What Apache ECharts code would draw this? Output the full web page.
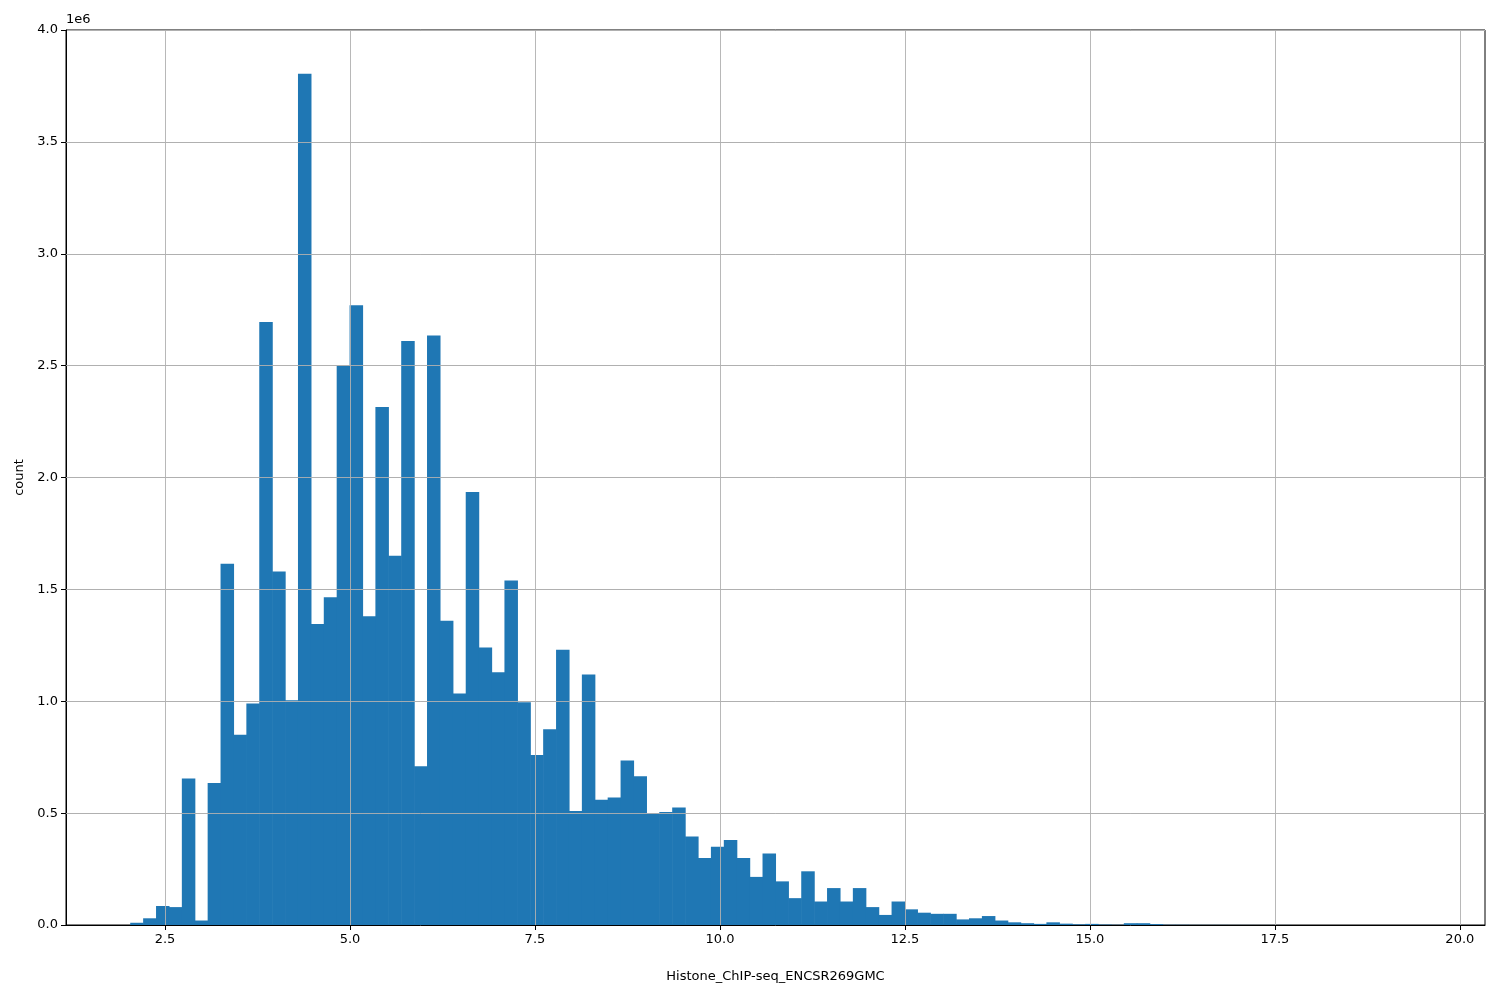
<!DOCTYPE html>
<html>
<head>
<meta charset="utf-8">
<script src="https://cdn.jsdelivr.net/npm/echarts@6/dist/echarts.min.js"></script>
<style>html,body{margin:0;padding:0;background:#fff}#chart{width:1500px;height:1000px}</style>
</head>
<body>
<div id="chart"></div>
<script>
// histogram: 100 bins from binStart with width binWidth, counts in millions
const binStart = 2.03;
const binWidth = 0.1744;
const counts = [
  0.01, 0.03, 0.085, 0.08, 0.655, 0.02, 0.635, 1.615, 0.85, 0.99,
  2.695, 1.58, 1.005, 3.805, 1.345, 1.465, 2.50, 2.77, 1.38, 2.315,
  1.65, 2.61, 0.71, 2.635, 1.36, 1.035, 1.935, 1.24, 1.13, 1.54,
  0.995, 0.76, 0.875, 1.23, 0.51, 1.12, 0.56, 0.57, 0.735, 0.665,
  0.50, 0.505, 0.525, 0.395, 0.30, 0.35, 0.38, 0.30, 0.215, 0.32,
  0.195, 0.12, 0.24, 0.105, 0.165, 0.105, 0.165, 0.08, 0.045, 0.105,
  0.07, 0.055, 0.05, 0.05, 0.025, 0.03, 0.04, 0.02, 0.012, 0.008,
  0.005, 0.012, 0.006, 0.003, 0.005, 0.002, 0.001, 0.008, 0.008, 0.004,
  0.001, 0.001, 0.0005, 0.0005, 0.0005, 0.0003, 0.0003, 0.0002, 0.0002, 0.0002,
  0.0001, 0.0001, 0.0001, 0.0001, 0.0001, 0.0001, 0.0001, 0.0001, 0.0001, 0.0001
];
const xTicks = [2.5, 5.0, 7.5, 10.0, 12.5, 15.0, 17.5, 20.0];

const data = counts.map((c, i) => [binStart + i * binWidth, binStart + (i + 1) * binWidth, c * 1e6]);

const chart = echarts.init(document.getElementById('chart'));
const font = 'DejaVu Sans';
chart.setOption({
  animation: false,
  textStyle: { fontFamily: font },
  grid: { left: 66, right: 15, top: 30, bottom: 75, show: true, borderColor: '#000', borderWidth: 1 },
  graphic: [{ type: 'text', left: 66, top: 13, style: { text: '1e6', font: '13px DejaVu Sans', fill: '#000' } }],
  xAxis: {
    type: 'value', min: 1.162, max: 20.34,
    name: 'Histone_ChIP-seq_ENCSR269GMC', nameLocation: 'middle', nameGap: 45,
    nameTextStyle: { color: '#000', fontSize: 13, fontFamily: font },
    axisLine: { onZero: false, lineStyle: { color: '#000' } },
    axisTick: { show: true, customValues: xTicks, length: 5, lineStyle: { color: '#000' } },
    axisLabel: { customValues: xTicks, color: '#000', fontSize: 13, formatter: v => v.toFixed(1) },
    splitLine: { show: false }
  },
  yAxis: {
    type: 'value', min: 0, max: 4e6, interval: 5e5,
    name: 'count', nameLocation: 'middle', nameGap: 40,
    nameTextStyle: { color: '#000', fontSize: 13, fontFamily: font },
    axisLine: { show: true, lineStyle: { color: '#000' } },
    axisTick: { show: true, length: 5, lineStyle: { color: '#000' } },
    axisLabel: { color: '#000', fontSize: 13, formatter: v => (v / 1e6).toFixed(1) },
    splitLine: { show: true, lineStyle: { color: '#b0b0b0', width: 1 } }
  },
  series: [{
    type: 'custom',
    data: data,
    renderItem: (params, api) => {
      const p0 = api.coord([api.value(0), api.value(2)]);
      const p1 = api.coord([api.value(1), 0]);
      return { type: 'rect', shape: { x: p0[0], y: p0[1], width: p1[0] - p0[0] + 0.6, height: p1[1] - p0[1] },
        style: { fill: '#1f77b4' } };
    },
    encode: { x: [0, 1], y: 2 },
    z: 2,
    markLine: {
      silent: true, symbol: 'none', label: { show: false }, z: 5,
      lineStyle: { color: '#b0b0b0', width: 1, type: 'solid', opacity: 0.9 },
      data: xTicks.map(v => ({ xAxis: v }))
    }
  }, {
    type: 'line', data: [], z: 5,
    markLine: {
      silent: true, symbol: 'none', label: { show: false },
      lineStyle: { color: '#b0b0b0', width: 1, type: 'solid', opacity: 0.9 },
      data: [1, 2, 3, 4, 5, 6, 7].map(k => ({ yAxis: k * 5e5 }))
    }
  }]
});
</script>
</body>
</html>
